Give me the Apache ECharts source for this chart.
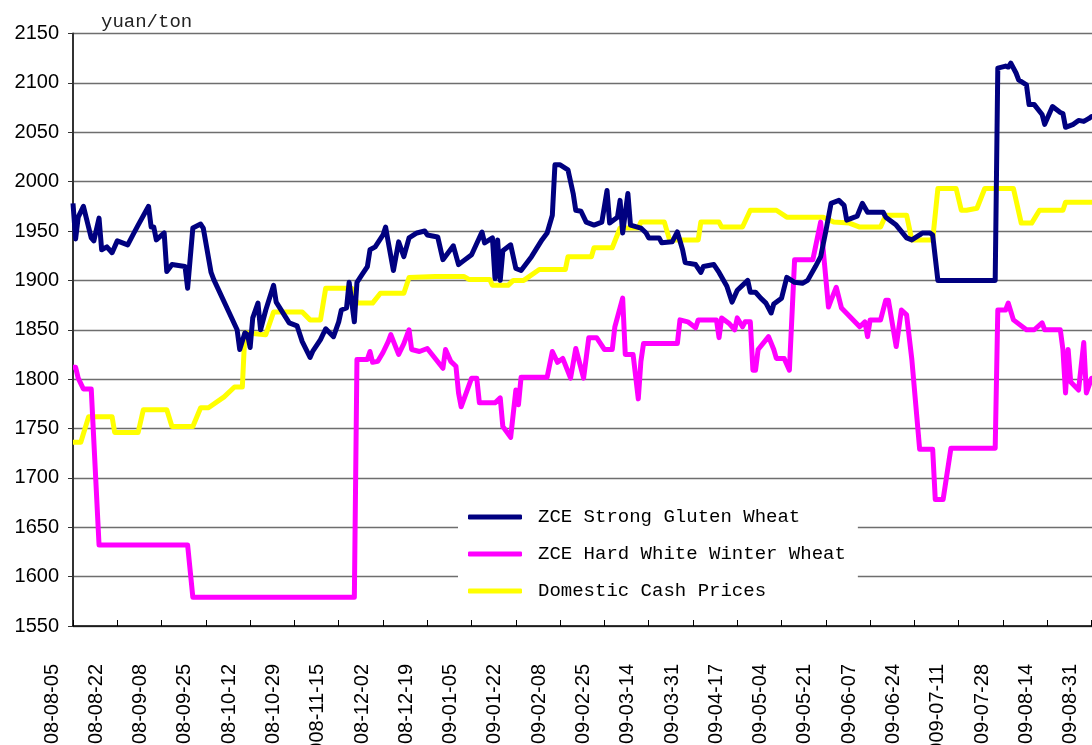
<!DOCTYPE html>
<html>
<head>
<meta charset="utf-8">
<script src="https://cdn.jsdelivr.net/npm/echarts@6/dist/echarts.min.js"></script>
<style>
  html, body { margin: 0; padding: 0; background: #fff; }
  #main { width: 1092px; height: 745px; }
</style>
</head>
<body>
<div id="main"></div>
<script>
// x positions are calendar days counted from 2008-08-05, ticks every 17 days
const dateLabels = [
  "2008-08-05", "2008-08-22", "2008-09-08", "2008-09-25", "2008-10-12", "2008-10-29",
  "2008-11-15", "2008-12-02", "2008-12-19", "2009-01-05", "2009-01-22", "2009-02-08",
  "2009-02-25", "2009-03-14", "2009-03-31", "2009-04-17", "2009-05-04", "2009-05-21",
  "2009-06-07", "2009-06-24", "2009-07-11", "2009-07-28", "2009-08-14", "2009-08-31"
]

const yTicks = [1550, 1600, 1650, 1700, 1750, 1800, 1850, 1900, 1950, 2000, 2050, 2100, 2150]

const seriesNames = ["ZCE Strong Gluten Wheat", "ZCE Hard White Winter Wheat", "Domestic Cash Prices"]

// [day, yuan/ton]
const gluten = [
  [0, 1978], [1, 1942], [2, 1964], [4, 1975], [7, 1943], [8, 1940], [10, 1963], [11, 1931],
  [13, 1934], [15, 1928], [17, 1940], [21, 1936], [23, 1946], [25, 1956], [29, 1975], [30, 1954],
  [31, 1954], [32, 1941], [35, 1948], [36, 1909], [38, 1916], [43, 1914], [44, 1892], [46, 1953],
  [49, 1957], [50, 1953], [53, 1908], [54, 1901], [63, 1850], [64, 1830], [66, 1847], [67, 1845],
  [68, 1832], [69, 1862], [71, 1877], [72, 1850], [74, 1870], [77, 1895], [78, 1878], [83, 1857],
  [86, 1854], [88, 1838], [91, 1822], [92, 1828], [95, 1840], [97, 1851], [100, 1843], [102, 1858],
  [103, 1870], [105, 1872], [106, 1898], [108, 1858], [109, 1898], [111, 1906], [113, 1914], [114, 1931],
  [116, 1934], [119, 1946], [120, 1954], [121, 1939], [123, 1910], [125, 1939], [127, 1924], [129, 1943],
  [132, 1948], [135, 1950], [136, 1946], [140, 1944], [142, 1921], [146, 1935], [148, 1916], [150, 1920],
  [153, 1926], [157, 1949], [158, 1938], [161, 1943], [162, 1902], [163, 1941], [164, 1900], [165, 1930],
  [168, 1936], [170, 1912], [172, 1910], [176, 1924], [180, 1941], [182, 1948], [184, 1966], [185, 2017],
  [187, 2017], [190, 2012], [192, 1988], [193, 1971], [195, 1970], [197, 1959], [200, 1956], [203, 1959],
  [205, 1991], [206, 1958], [209, 1964], [210, 1981], [211, 1948], [213, 1988], [214, 1956], [218, 1953],
  [220, 1948], [221, 1943], [225, 1943], [226, 1938], [230, 1939], [232, 1949], [234, 1931], [235, 1918],
  [239, 1916], [241, 1908], [242, 1914], [246, 1916], [248, 1908], [251, 1894], [253, 1878], [255, 1890],
  [259, 1900], [260, 1888], [262, 1888], [264, 1882], [266, 1877], [268, 1867], [269, 1876], [272, 1882],
  [274, 1903], [277, 1898], [280, 1897], [282, 1900], [285, 1914], [287, 1924], [289, 1950], [291, 1978],
  [294, 1981], [296, 1976], [297, 1961], [299, 1963], [301, 1965], [303, 1978], [305, 1969], [309, 1969],
  [311, 1969], [312, 1964], [316, 1956], [320, 1943], [322, 1941], [325, 1946], [326, 1948], [329, 1948],
  [330, 1946], [332, 1900], [354, 1900], [355, 2115], [358, 2117], [359, 2116], [360, 2120], [362, 2110],
  [363, 2103], [366, 2098], [367, 2078], [369, 2078], [372, 2068], [373, 2058], [376, 2076], [379, 2070],
  [380, 2069], [381, 2055], [384, 2058], [386, 2062], [388, 2061], [390, 2064], [391, 2066], [393, 2066]
]

const hardWhite = [
  [0, 1812], [1, 1812], [2, 1801], [4, 1790], [7, 1790], [10, 1632], [44, 1632], [46, 1579],
  [108, 1579], [109, 1820], [113, 1820], [114, 1828], [115, 1817], [117, 1818], [119, 1827], [121, 1838],
  [122, 1845], [125, 1825], [127, 1836], [129, 1850], [130, 1830], [133, 1828], [136, 1831], [142, 1811],
  [143, 1830], [145, 1818], [147, 1813], [148, 1786], [149, 1772], [153, 1801], [155, 1801], [156, 1776],
  [162, 1776], [164, 1781], [165, 1752], [168, 1741], [170, 1789], [171, 1774], [172, 1802], [182, 1802],
  [184, 1828], [186, 1817], [188, 1821], [191, 1801], [193, 1831], [196, 1801], [198, 1842], [201, 1842],
  [204, 1830], [207, 1830], [208, 1853], [211, 1882], [212, 1825], [215, 1825], [217, 1780], [218, 1818],
  [219, 1836], [232, 1836], [233, 1860], [236, 1858], [239, 1852], [240, 1860], [247, 1860], [248, 1842],
  [249, 1862], [252, 1856], [254, 1850], [255, 1862], [257, 1853], [258, 1858], [260, 1858], [261, 1809],
  [262, 1809], [263, 1830], [267, 1843], [269, 1830], [270, 1821], [273, 1821], [275, 1809], [277, 1921],
  [284, 1921], [287, 1959], [290, 1873], [291, 1880], [293, 1893], [295, 1872], [302, 1853], [304, 1858],
  [305, 1843], [306, 1860], [310, 1860], [312, 1880], [313, 1880], [316, 1833], [318, 1870], [320, 1865],
  [322, 1820], [325, 1729], [330, 1729], [331, 1678], [334, 1678], [337, 1730], [354, 1730], [355, 1870],
  [358, 1870], [359, 1877], [361, 1860], [366, 1850], [369, 1850], [372, 1857], [373, 1850], [379, 1850],
  [380, 1830], [381, 1786], [382, 1830], [383, 1797], [386, 1789], [388, 1837], [389, 1786], [391, 1801],
  [393, 1801]
]

const cashPrice = [
  [0, 1736], [3, 1736], [6, 1762], [15, 1762], [16, 1746], [25, 1746], [27, 1769], [36, 1769],
  [38, 1752], [46, 1752], [49, 1771], [52, 1771], [58, 1782], [62, 1792], [65, 1792], [66, 1847],
  [74, 1845], [77, 1868], [88, 1868], [91, 1860], [95, 1860], [97, 1892], [107, 1892], [109, 1877],
  [115, 1877], [118, 1887], [127, 1887], [129, 1903], [139, 1904], [150, 1904], [152, 1901], [160, 1901],
  [161, 1895], [167, 1895], [169, 1900], [173, 1900], [179, 1911], [189, 1911], [190, 1924], [199, 1924],
  [200, 1933], [207, 1933], [210, 1953], [217, 1953], [218, 1959], [227, 1959], [229, 1941], [240, 1941],
  [241, 1959], [248, 1959], [249, 1954], [257, 1954], [260, 1971], [270, 1971], [274, 1964], [288, 1964],
  [292, 1959], [298, 1958], [302, 1954], [310, 1954], [312, 1966], [320, 1966], [322, 1941], [330, 1941],
  [332, 1993], [339, 1993], [341, 1971], [343, 1971], [347, 1973], [350, 1993], [361, 1993], [364, 1958],
  [368, 1958], [371, 1971], [380, 1971], [381, 1979], [393, 1979]
]

const lineColors = ["#000080", "#FF00FF", "#FFFF00"]

const option = {
  animation: false,
  backgroundColor: "#fff",
  title: {
    text: "yuan/ton",
    left: 96,
    top: 7,
    textStyle: {
      fontFamily: "Liberation Mono",
      fontSize: 19,
      fontWeight: "normal",
      color: "#222"
    }
  },
  legend: {
    data: seriesNames,
    orient: "vertical",
    left: 458,
    top: 497,
    padding: [10, 12, 10, 10],
    backgroundColor: "#fff",
    icon: "roundRect",
    itemWidth: 54,
    itemHeight: 5,
    itemGap: 17,
    textStyle: {
      fontFamily: "Liberation Mono",
      fontSize: 19,
      lineHeight: 20,
      color: "#000",
      padding: [0, 0, 0, 11]
    }
  },
  grid: {
    left: 73,
    top: 33.5,
    bottom: 119,
    right: -10,
    outerBoundsMode: "none",
    containLabel: false
  },
  xAxis: {
    type: "value",
    min: 0,
    max: 395,
    interval: 17,
    axisLine: { lineStyle: { color: "#000", width: 1.5 } },
    axisTick: { inside: true, length: 6, lineStyle: { color: "#000" } },
    splitLine: { show: false },
    axisLabel: {
      rotate: 90,
      margin: 38,
      fontFamily: "Liberation Sans",
      fontSize: 20,
      color: "#000",
      verticalAlign: "bottom",
      lineHeight: 42,
      formatter: function (v) {
        if (v % 17 !== 0) return ""
        return dateLabels[v / 17] || ""
      }
    }
  },
  yAxis: {
    type: "value",
    min: yTicks[0],
    max: yTicks[yTicks.length - 1],
    interval: 50,
    axisLine: { show: true, lineStyle: { color: "#333", width: 2 } },
    axisTick: { show: true, length: 5, lineStyle: { color: "#333" } },
    splitLine: { lineStyle: { color: "#6e6e6e", width: 1.3 } },
    axisLabel: {
      margin: 14,
      fontFamily: "Liberation Sans",
      fontSize: 20,
      color: "#000",
      formatter: function (v) {
        return String(v)
      }
    }
  },
  series: [
    {
      name: seriesNames[0],
      type: "line",
      data: gluten,
      symbol: "none",
      z: 4,
      color: lineColors[0],
      lineStyle: { width: 5, color: lineColors[0], join: "round" }
    },
    {
      name: seriesNames[1],
      type: "line",
      data: hardWhite,
      symbol: "none",
      z: 3,
      color: lineColors[1],
      lineStyle: { width: 5, color: lineColors[1], join: "round" }
    },
    {
      name: seriesNames[2],
      type: "line",
      data: cashPrice,
      symbol: "none",
      z: 2,
      color: lineColors[2],
      lineStyle: { width: 5, color: lineColors[2], join: "round" }
    }
  ]
}

const myChart = echarts.init(document.getElementById("main"))
myChart.setOption(option)
</script>
</body>
</html>
